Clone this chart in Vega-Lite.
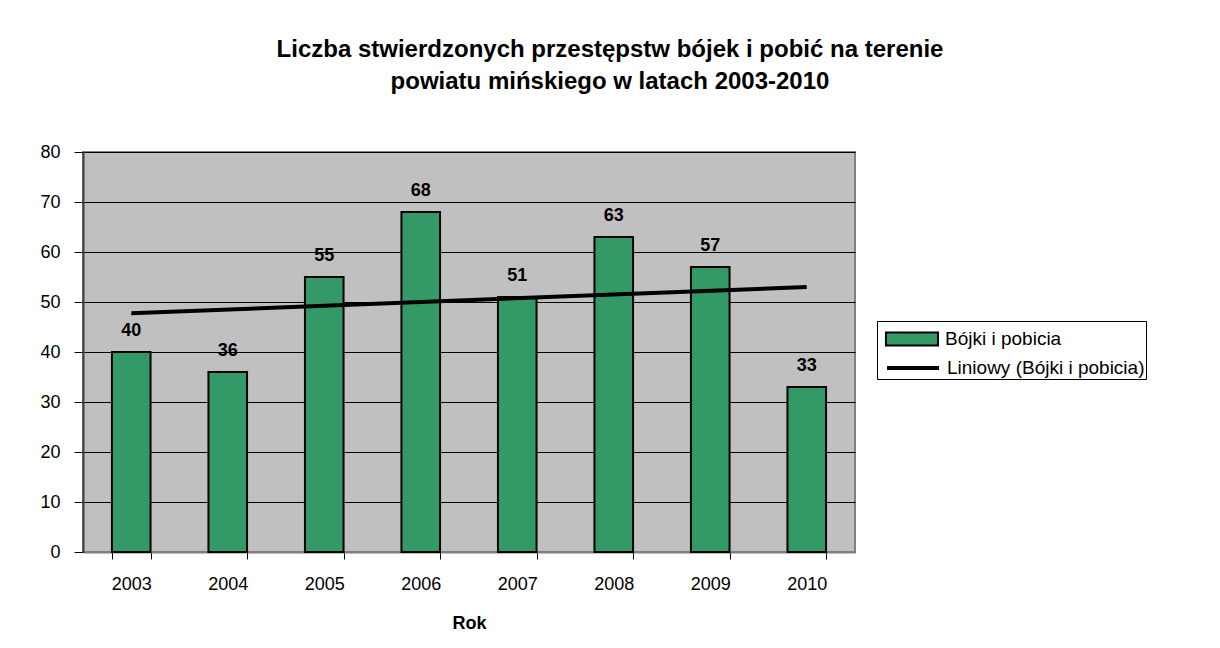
{
  "$schema": "https://vega.github.io/schema/vega-lite/v6.json",
  "width": 772,
  "height": 400,
  "autosize": {"type": "none"},
  "padding": {"left": 83, "top": 152, "right": 365, "bottom": 96},
  "background": "white",
  "title": {
    "text": ["Liczba stwierdzonych przestępstw bójek i pobić na terenie", "powiatu mińskiego w latach 2003-2010"],
    "font": "Liberation Sans",
    "fontSize": 24,
    "fontWeight": "bold",
    "color": "#000000",
    "anchor": "middle",
    "frame": "group",
    "dx": 141,
    "offset": 49,
    "lineHeight": 32
  },
  "config": {
    "font": "Liberation Sans",
    "view": {"fill": "#C0C0C0", "stroke": "#808080", "strokeWidth": 2}
  },
  "data": {
    "values": [
      {"year": 2003, "value": 40},
      {"year": 2004, "value": 36},
      {"year": 2005, "value": 55},
      {"year": 2006, "value": 68},
      {"year": 2007, "value": 51},
      {"year": 2008, "value": 63},
      {"year": 2009, "value": 57},
      {"year": 2010, "value": 33}
    ]
  },
  "encoding": {
    "x": {
      "field": "year",
      "type": "ordinal",
      "scale": {"paddingInner": 0.6, "paddingOuter": 0.3},
      "axis": {
        "title": "Rok",
        "titleFont": "Liberation Sans",
        "titleFontSize": 18,
        "titleFontWeight": "bold",
        "titleColor": "#000000",
        "titlePadding": 21,
        "labelAngle": 0,
        "labelFontSize": 18,
        "labelColor": "#000000",
        "labelPadding": 16,
        "tickBand": "extent",
        "tickSize": 7,
        "tickColor": "#000000",
        "domainColor": "#808080",
        "domainWidth": 2,
        "grid": false
      }
    }
  },
  "layer": [
    {
      "mark": {"type": "bar", "stroke": "#000000", "strokeWidth": 2},
      "encoding": {
        "y": {
          "field": "value",
          "type": "quantitative",
          "scale": {"domain": [0, 80]},
          "axis": {
            "title": null,
            "values": [0, 10, 20, 30, 40, 50, 60, 70, 80],
            "labelFontSize": 18,
            "labelColor": "#000000",
            "labelPadding": 14,
            "tickSize": 9,
            "tickColor": "#000000",
            "domainColor": "#404040",
            "domainWidth": 2,
            "grid": true,
            "gridColor": "#000000",
            "gridWidth": 1,
            "gridOpacity": 1
          }
        },
        "fill": {
          "datum": "Bójki i pobicia",
          "scale": {"domain": ["Bójki i pobicia"], "range": ["#339966"]},
          "legend": {
            "title": null,
            "orient": "none",
            "legendX": 794,
            "legendY": 171,
            "padding": 0,
            "labelFontSize": 19,
            "labelColor": "#000000",
            "labelLimit": 400,
            "labelOffset": 36,
            "symbolSize": 900,
            "symbolType": "M-0.47,-0.43H3V0.43H-0.47Z",
            "symbolStrokeColor": "#000000",
            "symbolStrokeWidth": 2,
            "symbolOpacity": 1
          }
        }
      }
    },
    {
      "mark": {"type": "text", "fontWeight": "bold", "fontSize": 18, "dy": -16, "baseline": "alphabetic", "color": "#000000"},
      "encoding": {
        "y": {"field": "value", "type": "quantitative"},
        "text": {"field": "value", "type": "quantitative"}
      }
    },
    {
      "transform": [{"regression": "value", "on": "year"}],
      "mark": {"type": "line", "strokeWidth": 4},
      "encoding": {
        "y": {"field": "value", "type": "quantitative"},
        "stroke": {
          "datum": "Liniowy (Bójki i pobicia)",
          "scale": {"domain": ["Liniowy (Bójki i pobicia)"], "range": ["#000000"]},
          "legend": {
            "title": " ",
            "titleFontSize": 19,
            "titlePadding": 10,
            "orient": "none",
            "legendX": 794,
            "legendY": 169,
            "strokeColor": "#000000",
            "padding": 1,
            "labelFontSize": 19,
            "labelColor": "#000000",
            "labelLimit": 400,
            "labelOffset": 35,
            "symbolSize": 900,
            "symbolType": "M-0.53,0H2.93",
            "symbolStrokeWidth": 4,
            "symbolOpacity": 1
          }
        }
      }
    }
  ]
}
